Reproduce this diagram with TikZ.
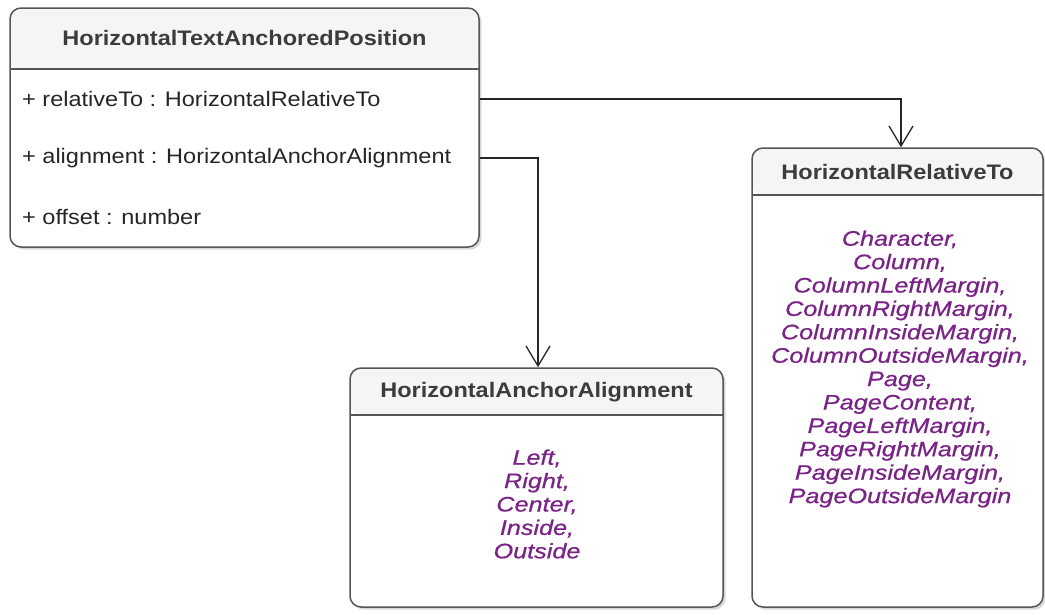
\documentclass[tikz,border=0pt]{standalone}
\usepackage{fontspec}
\setmainfont{Liberation Sans}[FakeStretch=1.12]
\newfontfamily\enumfam{Liberation Sans}[FakeStretch=1.2, FakeBold=0.6]
\usetikzlibrary{shadows,arrows.meta}
\definecolor{headfill}{HTML}{F5F5F5}
\definecolor{headtext}{HTML}{3C3C3C}
\definecolor{boxline}{HTML}{555555}
\definecolor{enumcol}{HTML}{7A2387}
\newcommand{\txtfont}{\fontsize{21}{23.4}\selectfont}
\tikzset{
  umlbox/.style={draw=boxline, line width=1.5pt, rounded corners=11pt, fill=white, inner sep=0pt,
    drop shadow={shadow xshift=2.5pt, shadow yshift=-2.5pt, fill=black!25, opacity=0.6}},
  headline/.style={draw=boxline, line width=2.2pt},
  titletext/.style={font=\txtfont\bfseries, text=headtext, inner sep=0pt},
  fieldtext/.style={font=\txtfont, text=black!85, anchor=west, inner sep=0pt},
  enumtext/.style={font=\enumfam\txtfont\itshape, text=enumcol, align=center, inner sep=0pt},
  assoc/.style={draw=black!85, line width=1.3pt, -{Straight Barb[length=20pt, width=24pt, line width=1.3pt]}}
}
\begin{document}
\begin{tikzpicture}[x=1pt,y=-1pt]
\useasboundingbox (0,0) rectangle (1045,614);

% Box 1
\node[umlbox, minimum width=469pt, minimum height=239pt,
  path picture={\fill[headfill] (path picture bounding box.north west) rectangle ([yshift=-61pt]path picture bounding box.north east);}]
  (A) at (244.5,127.5) {};
\draw[headline] (10,69) -- (479,69);
\node[titletext] (At) at (244.5,38) {HorizontalTextAnchoredPosition};
\node[fieldtext] (Af1) at (22,99) {+ relativeTo : HorizontalRelativeTo};
\node[fieldtext] (Af2) at (22,158) {+ alignment : HorizontalAnchorAlignment};
\node[fieldtext] (Af3) at (22,217) {+ offset : number};

% Box 2
\node[umlbox, minimum width=373pt, minimum height=239pt,
  path picture={\fill[headfill] (path picture bounding box.north west) rectangle ([yshift=-47pt]path picture bounding box.north east);}]
  (B) at (536.5,487.5) {};
\draw[headline] (350,415) -- (723,415);
\node[titletext] (Bt) at (536.5,392) {HorizontalAnchorAlignment};
\node[enumtext] (Be) at (537,504) {Left,\\Right,\\Center,\\Inside,\\Outside};

% Box 3
\node[umlbox, minimum width=291pt, minimum height=459pt,
  path picture={\fill[headfill] (path picture bounding box.north west) rectangle ([yshift=-47pt]path picture bounding box.north east);}]
  (C) at (897.5,377.5) {};
\draw[headline] (752,195) -- (1043,195);
\node[titletext] (Ct) at (897.5,172) {HorizontalRelativeTo};
\node[enumtext] (Ce) at (900,369) {Character,\\Column,\\ColumnLeftMargin,\\ColumnRightMargin,\\ColumnInsideMargin,\\ColumnOutsideMargin,\\Page,\\PageContent,\\PageLeftMargin,\\PageRightMargin,\\PageInsideMargin,\\PageOutsideMargin};

% Connectors
\draw[assoc] (A.east |- Af1) -| (C.north -| 901,0);
\draw[assoc] (A.east |- Af2) -| (B.north -| 538,0);
\end{tikzpicture}
\end{document}
